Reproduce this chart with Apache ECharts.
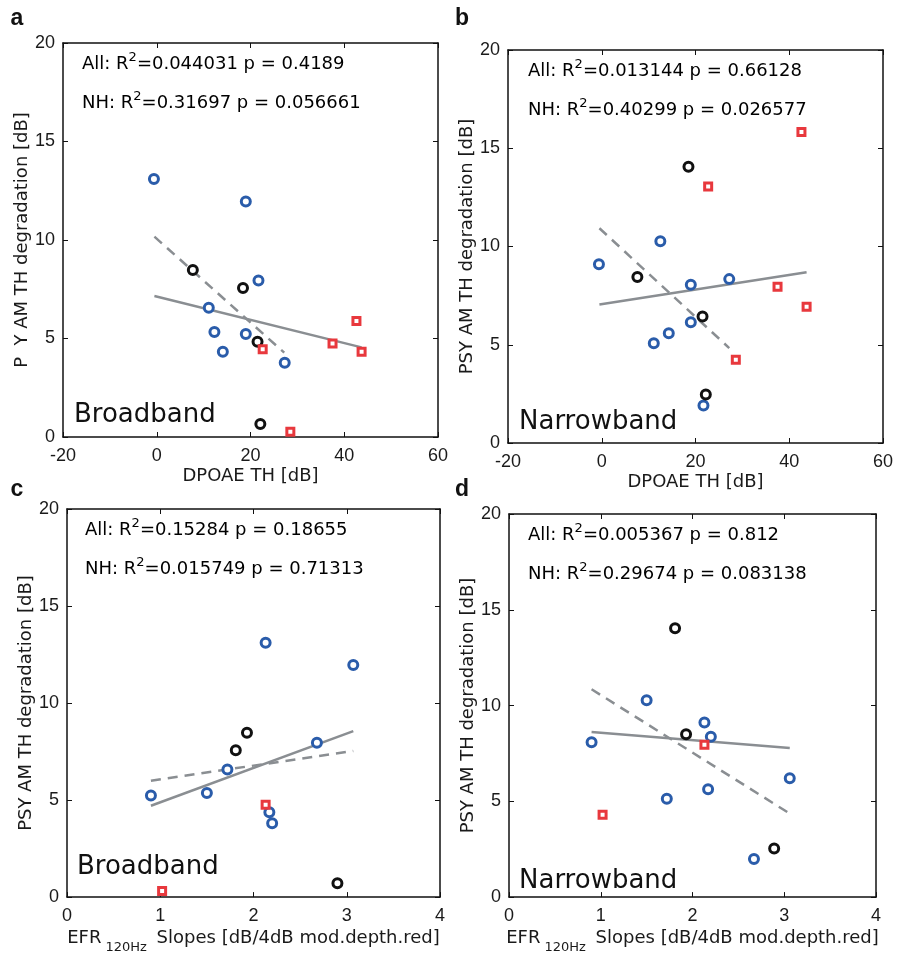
<!DOCTYPE html>
<html>
<head>
<meta charset="utf-8">
<script src="https://cdn.jsdelivr.net/npm/echarts@6/dist/echarts.min.js"></script>
<style>
html,body{margin:0;padding:0;background:#fff;}
#chart{width:898px;height:955px;}
</style>
</head>
<body>
<div id="chart"></div>
<script>
// ---------- data ----------
// Panel a: DPOAE TH vs broadband degradation
const aBlue  = [[-0.6,13.1],[19.0,11.95],[21.7,7.95],[11.1,6.56],[12.3,5.33],[19.0,5.23],[14.1,4.33],[27.3,3.77]];
const aBlack = [[7.7,8.48],[18.4,7.56],[21.5,4.84],[22.1,0.66]];
const aRed   = [[42.6,5.89],[37.5,4.74],[43.7,4.33],[22.6,4.45],[28.5,0.27]];
const aFitAll = [[-0.5,7.16],[43.7,4.55]];
const aFitNH  = [[-0.5,10.17],[27.2,4.28]];
// Panel b: DPOAE TH vs narrowband degradation
const bBlue  = [[-0.6,9.10],[12.5,10.27],[19.0,8.05],[27.2,8.34],[19.0,6.15],[14.3,5.59],[11.1,5.08],[21.7,1.91]];
const bBlack = [[18.5,14.06],[7.6,8.45],[21.5,6.44],[22.2,2.47]];
const bRed   = [[42.6,15.83],[22.7,13.05],[37.5,7.95],[43.7,6.93],[28.6,4.24]];
const bFitAll = [[-0.5,7.05],[43.7,8.69]];
const bFitNH  = [[-0.5,10.93],[27.2,4.83]];
// Panel c: EFR slopes vs broadband degradation
const cBlue  = [[0.90,5.24],[1.50,5.37],[1.72,6.58],[2.13,13.11],[2.68,7.96],[3.07,11.96],[2.17,4.37],[2.20,3.81]];
const cBlack = [[1.93,8.47],[1.81,7.57],[2.90,0.71]];
const cRed   = [[2.13,4.76],[1.02,0.32]];
const cFitAll = [[0.9,4.71],[3.07,8.55]];
const cFitNH  = [[0.9,6.0],[3.07,7.53]];
// Panel d: EFR slopes vs narrowband degradation
const dBlue  = [[0.90,8.08],[1.50,10.28],[2.13,9.12],[2.20,8.37],[3.06,6.20],[2.17,5.63],[1.72,5.14],[2.67,1.99]];
const dBlack = [[1.81,14.04],[1.93,8.50],[2.89,2.54]];
const dRed   = [[2.13,7.96],[1.02,4.30]];
const dFitAll = [[0.9,8.62],[3.06,7.79]];
const dFitNH  = [[0.9,10.85],[3.06,4.36]];

const statsA = ['All: R', '2', '=0.044031 p = 0.4189', 'NH: R', '2', '=0.31697 p = 0.056661'];
const statsB = ['All: R', '2', '=0.013144 p = 0.66128', 'NH: R', '2', '=0.40299 p = 0.026577'];
const statsC = ['All: R', '2', '=0.15284 p = 0.18655', 'NH: R', '2', '=0.015749 p = 0.71313'];
const statsD = ['All: R', '2', '=0.005367 p = 0.812', 'NH: R', '2', '=0.29674 p = 0.083138'];

const dpoaeTicks = {min:-20, max:60, interval:20};
const efrTicks   = {min:0, max:4, interval:1};
const yTicks     = {min:0, max:20, interval:5};

const yNameA = 'P  Y AM TH degradation [dB]';
const yNameOther = 'PSY AM TH degradation [dB]';
const xNameDP = 'DPOAE TH [dB]';
const xNameEFR = '{m|EFR}{s|120Hz}{m| Slopes [dB/4dB mod.depth.red]}';

// ---------- layout ----------
const panels = [
  {grid:{left:63, top:43, width:375, height:394}, x:dpoaeTicks, xName:xNameDP, yName:yNameA,
   blue:aBlue, black:aBlack, red:aRed, all:aFitAll, nh:aFitNH, stats:statsA, band:'Broadband',
   letter:'a', letterPos:[17,19], statsPos:[82,65,104], bandPos:[74,415]},
  {grid:{left:508, top:50, width:375, height:393}, x:dpoaeTicks, xName:xNameDP, yName:yNameOther,
   blue:bBlue, black:bBlack, red:bRed, all:bFitAll, nh:bFitNH, stats:statsB, band:'Narrowband',
   letter:'b', letterPos:[462,19], statsPos:[528,72,111.5], bandPos:[519,422]},
  {grid:{left:67, top:509, width:373, height:392}, x:efrTicks, xName:xNameEFR, yName:yNameOther,
   blue:cBlue, black:cBlack, red:cRed, all:cFitAll, nh:cFitNH, stats:statsC, band:'Broadband',
   letter:'c', letterPos:[17,490], statsPos:[85,531.5,570.5], bandPos:[77,867.5]},
  {grid:{left:509, top:514, width:367, height:390}, x:efrTicks, xName:xNameEFR, yName:yNameOther,
   blue:dBlue, black:dBlack, red:dRed, all:dFitAll, nh:dFitNH, stats:statsD, band:'Narrowband',
   letter:'d', letterPos:[462,490], statsPos:[528,536.3,575.3], bandPos:[519,881.7]}
];

const tickFont = {fontFamily:'Liberation Sans, Arial, sans-serif', fontSize:18, color:'#1a1a1a'};
const nameFont = 'DejaVu Sans, sans-serif';

const grids = [], xAxes = [], yAxes = [], series = [], graphics = [];
const axisLine = {show:true, onZero:false, lineStyle:{color:'#111', width:1.5}};
const axisTick = {show:true, inside:true, length:5, lineStyle:{color:'#111', width:1}};

panels.forEach((p, i) => {
  grids.push(Object.assign({containLabel:false}, p.grid));
  // bottom x axis with labels
  xAxes.push({type:'value', gridIndex:i, position:'bottom', min:p.x.min, max:p.x.max, interval:p.x.interval,
    axisLine, axisTick, splitLine:{show:false},
    axisLabel:Object.assign({margin:10}, tickFont),
    name:p.xName, nameLocation:'middle', nameGap: (i<2 ? 30 : 23),
    nameTextStyle:{fontFamily:nameFont, fontSize:18, color:'#1a1a1a',
      rich:{m:{fontFamily:nameFont, fontSize:18, color:'#1a1a1a', lineHeight:22, verticalAlign:'top'},
            s:{fontFamily:nameFont, fontSize:13, color:'#1a1a1a', lineHeight:14, padding:[15,4,0,4]}}}});
  // top mirror axis
  xAxes.push({type:'value', gridIndex:i, position:'top', min:p.x.min, max:p.x.max, interval:p.x.interval,
    axisLine, axisTick, splitLine:{show:false}, axisLabel:{show:false}});
  // left y axis
  yAxes.push({type:'value', gridIndex:i, position:'left', min:yTicks.min, max:yTicks.max, interval:yTicks.interval,
    axisLine, axisTick, splitLine:{show:false},
    axisLabel:Object.assign({margin:8}, tickFont),
    name:p.yName, nameLocation:'middle', nameGap:31, nameRotate:90,
    nameTextStyle:{fontFamily:nameFont, fontSize:18, color:'#1a1a1a'}});
  // right mirror axis
  yAxes.push({type:'value', gridIndex:i, position:'right', min:yTicks.min, max:yTicks.max, interval:yTicks.interval,
    axisLine, axisTick, splitLine:{show:false}, axisLabel:{show:false}});

  const xi = 2*i, yi = 2*i;
  series.push({type:'line', xAxisIndex:xi, yAxisIndex:yi, data:p.all, symbol:'none', silent:true,
    lineStyle:{color:'#8a8e92', width:2.5}, z:2});
  series.push({type:'line', xAxisIndex:xi, yAxisIndex:yi, data:p.nh, symbol:'none', silent:true,
    lineStyle:{color:'#8a8e92', width:2.5, type:[10,7]}, z:2});
  series.push({type:'scatter', xAxisIndex:xi, yAxisIndex:yi, data:p.blue, symbol:'circle', symbolSize:9, silent:true,
    itemStyle:{color:'#ffffff', borderColor:'#2a5caa', borderWidth:3, opacity:1}, z:3});
  series.push({type:'scatter', xAxisIndex:xi, yAxisIndex:yi, data:p.black, symbol:'circle', symbolSize:9, silent:true,
    itemStyle:{color:'#ffffff', borderColor:'#111111', borderWidth:3, opacity:1}, z:3});
  series.push({type:'scatter', xAxisIndex:xi, yAxisIndex:yi, data:p.red, symbol:'rect', symbolSize:7, silent:true,
    itemStyle:{color:'#ffffff', borderColor:'#e8383d', borderWidth:3, opacity:1}, z:3});

  // stats text
  const richStats = {
    t:{fontFamily:nameFont, fontSize:18, color:'#1a1a1a', lineHeight:22, verticalAlign:'bottom'},
    u:{fontFamily:nameFont, fontSize:13, color:'#1a1a1a', lineHeight:13, verticalAlign:'top', padding:[0,0,9,0]}
  };
  const s = p.stats;
  graphics.push({type:'text', left:p.statsPos[0], top:p.statsPos[1]-14, silent:true, z:10,
    style:{text:'{t|'+s[0]+'}{u|'+s[1]+'}{t|'+s[2]+'}', rich:richStats}});
  graphics.push({type:'text', left:p.statsPos[0], top:p.statsPos[2]-14, silent:true, z:10,
    style:{text:'{t|'+s[3]+'}{u|'+s[4]+'}{t|'+s[5]+'}', rich:richStats}});
  graphics.push({type:'text', x:p.bandPos[0], y:p.bandPos[1], silent:true, z:10,
    style:{text:p.band, fontFamily:nameFont, fontSize:26, fill:'#111', textVerticalAlign:'middle'}});
  graphics.push({type:'text', x:p.letterPos[0], y:p.letterPos[1], silent:true, z:10,
    style:{text:p.letter, fontFamily:'Liberation Sans, Arial, sans-serif', fontWeight:'bold', fontSize:23, fill:'#111',
      textAlign:'center', textVerticalAlign:'middle'}});
});

const chart = echarts.init(document.getElementById('chart'), null, {renderer:'canvas'});
chart.setOption({
  animation:false,
  backgroundColor:'#ffffff',
  grid:grids, xAxis:xAxes, yAxis:yAxes, series:series, graphic:graphics
});
</script>
</body>
</html>
